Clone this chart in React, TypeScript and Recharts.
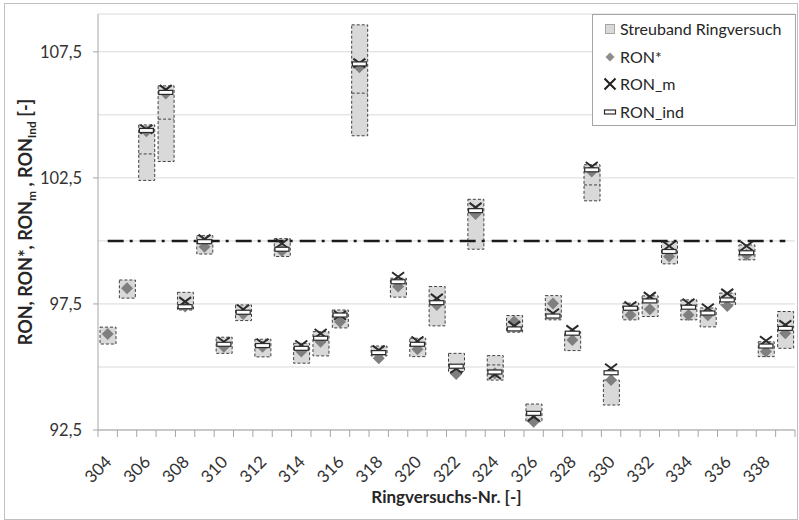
import React from 'react';
import { ComposedChart, Bar, Line, XAxis, YAxis, CartesianGrid } from 'recharts';

const categories = [304, 305, 306, 307, 308, 309, 310, 311, 312, 313, 314, 315, 316, 317, 318, 319, 320, 321,
  322, 323, 324, 325, 326, 327, 328, 329, 330, 331, 332, 333, 334, 335, 336, 337, 338, 339];

// Streuband Ringversuch (low / high / inner segment border)
const bandLow = [95.91, 97.73, 102.4, 103.15, 97.26, 99.48, 95.54, 96.84, 95.4, 99.38, 95.15, 95.44, 96.55, 104.17,
  95.44, 97.77, 95.41, 96.63, 94.82, 99.67, 94.48, 96.38, 92.83, 96.87, 95.65, 101.59, 93.49, 96.87, 97.0, 99.09,
  96.87, 96.59, 97.46, 99.25, 95.41, 95.74];
const bandHigh = [96.58, 98.45, 104.6, 106.15, 97.96, 100.21, 96.18, 97.46, 96.1, 100.09, 95.94, 96.4, 97.26, 108.57,
  95.83, 98.52, 96.14, 98.19, 95.54, 101.65, 95.45, 97.04, 93.53, 97.83, 96.4, 103.02, 94.48, 97.53, 97.82, 99.97,
  97.66, 97.34, 97.93, 99.84, 96.0, 97.2];
const bandMid = [null, null, 103.45, 104.83, null, null, null, null, null, null, null, null, null, 105.86,
  null, null, null, null, null, null, 95.08, null, null, null, null, 102.22, null, null, null, null,
  null, null, null, null, null, null];

const ronStar = [96.31, 98.12, 104.35, 105.85, 97.4, 99.77, 95.8, 97.1, 95.8, 99.6, 95.61, 96.0, 96.79, 106.89,
  95.35, 98.19, 95.7, 97.46, 94.72, 101.07, 94.75, 96.8, 92.83, 97.52, 96.07, 102.75, 94.48, 97.06, 97.29, 99.38,
  97.06, 97.05, 97.42, 99.45, 95.61, 96.34];
const ronM = [null, null, 104.43, 106.0, 97.59, 100.07, 96.0, 97.29, 95.94, 99.9, 95.87, 96.33, 97.05, 107.05,
  95.67, 98.58, 96.03, 97.72, 94.93, 101.33, 94.7, 96.63, 93.03, 97.13, 96.47, 102.95, 94.95, 97.42, 97.79, 99.8,
  97.53, 97.33, 97.92, 99.8, 96.04, 96.67];
const ronInd = [null, null, 104.38, 105.89, 97.39, 99.97, 95.9, 97.17, 95.85, 99.67, 95.74, 96.14, 97.06, 107.02,
  95.57, 98.38, 95.9, 97.55, 95.03, 101.2, 94.8, 96.51, 93.16, 97.02, 96.34, 102.82, 94.77, 97.33, 97.62, 99.58,
  97.37, 97.14, 97.66, 99.53, 95.83, 96.53];

const limitValue = 100;
const yTicks = [92.5, 95, 97.5, 100, 102.5, 105, 107.5];
const yLabelTicks = [92.5, 97.5, 102.5, 107.5];
const yDomain = [92.5, 109];

const data = categories.map((c, i) => ({
  cat: String(c),
  band: [bandLow[i], bandHigh[i]],
  low: bandLow[i],
  high: bandHigh[i],
  mid: bandMid[i],
  ronStar: ronStar[i],
  ronM: ronM[i],
  ronInd: ronInd[i],
  limit: limitValue,
}));

const FONT = 'Lato, "Open Sans", sans-serif';
const TEXT = '#333333';
const AXIS = '#a6a6a6';

const fmt = (v: number) => v.toFixed(1).replace('.', ',');

const BandShape = (props: any) => {
  const { x, y, width, height, payload } = props;
  if (x == null || y == null) return <g />;
  const top = Math.min(y, y + height);
  const h = Math.abs(height);
  let midLine = null;
  if (payload && payload.mid != null) {
    const my = top + (h * (payload.high - payload.mid)) / (payload.high - payload.low);
    midLine = <line x1={x} x2={x + width} y1={my} y2={my} stroke="#404040" strokeWidth={1} strokeDasharray="3 2" />;
  }
  return (
    <g>
      <rect x={x} y={top} width={width} height={h} fill="#d9d9d9" stroke="#404040" strokeWidth={1} strokeDasharray="3 2" />
      {midLine}
    </g>
  );
};

const renderDiamond = (p: any) => {
  const { cx, cy, value, index } = p;
  if (value == null || cx == null || cy == null) return <g key={`ds-${index}`} />;
  return <path key={`ds-${index}`} d={`M${cx},${cy - 6} L${cx + 6},${cy} L${cx},${cy + 6} L${cx - 6},${cy} Z`} fill="#7f7f7f" />;
};

const renderCross = (p: any) => {
  const { cx, cy, value, index } = p;
  if (value == null || cx == null || cy == null) return <g key={`cx-${index}`} />;
  return (
    <path key={`cx-${index}`} d={`M${cx - 6},${cy - 4.5} L${cx + 6},${cy + 4.5} M${cx - 6},${cy + 4.5} L${cx + 6},${cy - 4.5}`}
      stroke="#2b2b2b" strokeWidth={2} fill="none" />
  );
};

const renderInd = (p: any) => {
  const { cx, cy, value, index } = p;
  if (value == null || cx == null || cy == null) return <g key={`in-${index}`} />;
  return <rect key={`in-${index}`} x={cx - 7} y={cy - 2} width={14} height={4} fill="#ffffff" stroke="#2b2b2b" strokeWidth={1.2} />;
};

const YTick = (props: any) => {
  const { x, y, payload } = props;
  const v = payload.value;
  if (!yLabelTicks.includes(v)) return <g />;
  return (
    <g>
      <line x1={x - 5} x2={x} y1={y} y2={y} stroke={AXIS} />
      <text x={x - 16} y={y} dy="0.35em" textAnchor="end" fontSize={16.5} fill={TEXT} fontFamily={FONT}>{fmt(v)}</text>
    </g>
  );
};

const XTick = (props: any) => {
  const { x, y, payload, index } = props;
  const half = payload && typeof payload.offset === 'number' && payload.offset > 0 ? payload.offset : 9.68;
  const tx = x + 5;
  const ty = y + 33;
  return (
    <g>
      <line x1={x - half} x2={x - half} y1={y} y2={y + 7} stroke={AXIS} />
      {index === categories.length - 1 && <line x1={x + half} x2={x + half} y1={y} y2={y + 7} stroke={AXIS} />}
      {index % 2 === 0 && (
        <text x={tx} y={ty} textAnchor="end" transform={`rotate(-45, ${tx}, ${ty})`} fontSize={17} fill={TEXT} fontFamily={FONT}>
          {payload.value}
        </text>
      )}
    </g>
  );
};

const YTitle = (props: any) => {
  const vb = props.viewBox || { x: 0, y: 14, width: 98, height: 416 };
  const cy = vb.y + vb.height / 2;
  const bx = 32;
  return (
    <text x={bx} y={cy} textAnchor="middle" transform={`rotate(-90, ${bx}, ${cy})`} fontSize={18} fontWeight="bold" fill="#262626" fontFamily={FONT}>
      RON, RON*, RON<tspan dy={4} fontSize={12}>m</tspan><tspan dy={-4}> , RON</tspan><tspan dy={4} fontSize={12}>Ind</tspan><tspan dy={-4}> [-]</tspan>
    </text>
  );
};

const XTitle = (props: any) => {
  const vb = props.viewBox || { x: 98, y: 430, width: 697, height: 90 };
  return (
    <text x={vb.x + vb.width / 2} y={vb.y + 73} textAnchor="middle" fontSize={17} fontWeight="bold" fill="#262626" fontFamily={FONT}>
      Ringversuchs-Nr. [-]
    </text>
  );
};

const legendItems = [
  { label: 'Streuband Ringversuch', kind: 'band' },
  { label: 'RON*', kind: 'diamond' },
  { label: 'RON_m', kind: 'cross' },
  { label: 'RON_ind', kind: 'ind' },
];

const LegendIcon = ({ kind }: { kind: string }) => (
  <svg width={16} height={16} style={{ position: 'absolute', left: 9, top: 2 }}>
    {kind === 'band' && <rect x={3.5} y={3.5} width={9} height={9} fill="#d9d9d9" stroke="#a6a6a6" />}
    {kind === 'diamond' && <path d="M8,3.5 L12.5,8 L8,12.5 L3.5,8 Z" fill="#8c8c8c" />}
    {kind === 'cross' && <path d="M2.5,2.5 L13.5,13.5 M2.5,13.5 L13.5,2.5" stroke="#1f1f1f" strokeWidth={2} />}
    {kind === 'ind' && <rect x={2.5} y={6} width={11} height={4} fill="#ffffff" stroke="#2b2b2b" strokeWidth={1.2} />}
  </svg>
);

export default function App() {
  return (
    <div style={{ position: 'absolute', left: 0, top: 0, width: 799, height: 520, background: '#ffffff', fontFamily: FONT }}>
      <ComposedChart width={799} height={520} data={data} margin={{ top: 14, right: 4, left: 0, bottom: 0 }}>
        <CartesianGrid vertical={false} stroke="#d9d9d9" />
        <XAxis
          dataKey="cat"
          interval={0}
          tickSize={0}
          tickMargin={0}
          tickLine={false}
          axisLine={{ stroke: AXIS }}
          height={90}
          tick={<XTick />}
          label={<XTitle />}
        />
        <XAxis xAxisId="top" dataKey="cat" orientation="top" height={0} tick={false} tickLine={false} axisLine={{ stroke: AXIS }} />
        <YAxis
          type="number"
          domain={yDomain}
          ticks={yTicks}
          width={98}
          tickSize={0}
          tickMargin={0}
          tickLine={false}
          axisLine={{ stroke: AXIS }}
          tick={<YTick />}
          allowDataOverflow
          label={<YTitle />}
        />
        <YAxis yAxisId="right" orientation="right" type="number" domain={yDomain} width={0} tick={false} tickLine={false} axisLine={{ stroke: AXIS }} />
        <Bar dataKey="band" barSize={16} shape={<BandShape />} isAnimationActive={false} />
        <Line dataKey="limit" stroke="#1a1a1a" strokeWidth={2.5} strokeDasharray="16 6 3 7" dot={false} activeDot={false} isAnimationActive={false} />
        <Line dataKey="ronStar" stroke="none" dot={renderDiamond} activeDot={false} isAnimationActive={false} />
        <Line dataKey="ronM" stroke="none" dot={renderCross} activeDot={false} isAnimationActive={false} />
        <Line dataKey="ronInd" stroke="none" dot={renderInd} activeDot={false} isAnimationActive={false} />
      </ComposedChart>
      <div style={{ position: 'absolute', left: 4, top: 3, width: 794, height: 517, border: '1px solid #c0c0c0', boxSizing: 'border-box', pointerEvents: 'none' }} />
      <div style={{ position: 'absolute', left: 592, top: 14, width: 204, height: 112, border: `1px solid ${AXIS}`, boxSizing: 'border-box', background: '#ffffff' }}>
        {legendItems.map((it, i) => (
          <div key={it.label} style={{ position: 'absolute', left: 0, top: 4 + i * 27.7, height: 20, width: 200 }}>
            <LegendIcon kind={it.kind} />
            <span style={{ position: 'absolute', left: 27, top: 0, lineHeight: '20px', fontSize: 16, color: '#262626', whiteSpace: 'nowrap' }}>{it.label}</span>
          </div>
        ))}
      </div>
    </div>
  );
}
